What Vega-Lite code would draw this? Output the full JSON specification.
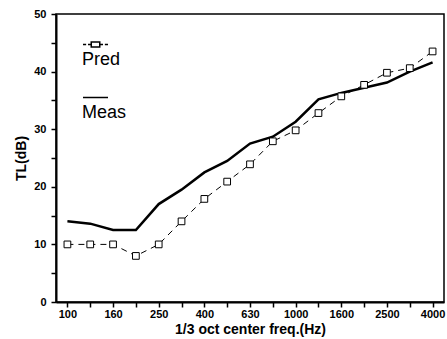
{
  "$schema": "https://vega.github.io/schema/vega-lite/v6.json",
  "width": 388,
  "height": 288,
  "autosize": {"type": "none"},
  "padding": {"left": 56, "top": 14, "right": 3, "bottom": 37},
  "config": {
    "font": "Liberation Sans",
    "view": {"stroke": "black", "strokeWidth": 1.5},
    "axis": {
      "domainColor": "black",
      "domainWidth": 2,
      "tickColor": "black",
      "tickWidth": 1.5,
      "tickSize": 5,
      "grid": false,
      "labelColor": "black",
      "labelFont": "Liberation Sans",
      "labelFontSize": 11,
      "labelFontWeight": "bold",
      "titleColor": "black",
      "titleFont": "Liberation Sans",
      "titleFontSize": 14,
      "titleFontWeight": "bold"
    }
  },
  "data": {
    "values": [
      {"freq": 100, "series": "Meas", "tl": 14.0},
      {"freq": 125, "series": "Meas", "tl": 13.6},
      {"freq": 160, "series": "Meas", "tl": 12.5},
      {"freq": 200, "series": "Meas", "tl": 12.5},
      {"freq": 250, "series": "Meas", "tl": 17.0},
      {"freq": 315, "series": "Meas", "tl": 19.5},
      {"freq": 400, "series": "Meas", "tl": 22.5},
      {"freq": 500, "series": "Meas", "tl": 24.5},
      {"freq": 630, "series": "Meas", "tl": 27.5},
      {"freq": 800, "series": "Meas", "tl": 28.7},
      {"freq": 1000, "series": "Meas", "tl": 31.3},
      {"freq": 1250, "series": "Meas", "tl": 35.2},
      {"freq": 1600, "series": "Meas", "tl": 36.3},
      {"freq": 2000, "series": "Meas", "tl": 37.2},
      {"freq": 2500, "series": "Meas", "tl": 38.1},
      {"freq": 3150, "series": "Meas", "tl": 40.0},
      {"freq": 4000, "series": "Meas", "tl": 41.6},
      {"freq": 100, "series": "Pred", "tl": 10.0},
      {"freq": 125, "series": "Pred", "tl": 10.0},
      {"freq": 160, "series": "Pred", "tl": 10.0},
      {"freq": 200, "series": "Pred", "tl": 8.0},
      {"freq": 250, "series": "Pred", "tl": 10.0},
      {"freq": 315, "series": "Pred", "tl": 14.0},
      {"freq": 400, "series": "Pred", "tl": 17.9},
      {"freq": 500, "series": "Pred", "tl": 20.9},
      {"freq": 630, "series": "Pred", "tl": 23.9},
      {"freq": 800, "series": "Pred", "tl": 27.9},
      {"freq": 1000, "series": "Pred", "tl": 29.8},
      {"freq": 1250, "series": "Pred", "tl": 32.8},
      {"freq": 1600, "series": "Pred", "tl": 35.7},
      {"freq": 2000, "series": "Pred", "tl": 37.7},
      {"freq": 2500, "series": "Pred", "tl": 39.8},
      {"freq": 3150, "series": "Pred", "tl": 40.6},
      {"freq": 4000, "series": "Pred", "tl": 43.5}
    ]
  },
  "encoding": {
    "x": {
      "field": "freq",
      "type": "ordinal",
      "scale": {"type": "point", "padding": 0.5},
      "axis": {
        "title": "1/3 oct center freq.(Hz)",
        "labelAngle": 0,
        "labelPadding": 1,
        "titlePadding": 3,
        "labelExpr": "indexof([100,160,250,400,630,1000,1600,2500,4000], datum.value) >= 0 ? datum.label : ''"
      }
    },
    "y": {
      "field": "tl",
      "type": "quantitative",
      "scale": {"domain": [0, 50], "nice": false},
      "axis": {
        "title": "TL(dB)",
        "values": [0, 5, 10, 15, 20, 25, 30, 35, 40, 45, 50],
        "labelExpr": "datum.value % 10 === 0 ? datum.label : ''",
        "labelPadding": 5,
        "titlePadding": 5
      }
    }
  },
  "layer": [
    {
      "transform": [{"filter": "datum.series === 'Meas'"}],
      "mark": {"type": "line", "color": "black", "strokeWidth": 2.5},
      "encoding": {}
    },
    {
      "transform": [{"filter": "datum.series === 'Pred'"}],
      "mark": {"type": "line", "color": "black", "strokeWidth": 1, "strokeDash": [6, 5]},
      "encoding": {}
    },
    {
      "transform": [{"filter": "datum.series === 'Pred'"}],
      "mark": {"type": "point", "shape": "square", "filled": false, "fill": "white", "stroke": "black", "strokeWidth": 1, "size": 45, "opacity": 1},
      "encoding": {}
    },
    {
      "transform": [{"filter": "false"}],
      "mark": {"type": "point", "filled": false, "fill": "white", "stroke": "black", "strokeWidth": 1.5, "opacity": 1},
      "encoding": {
        "shape": {
          "field": "series",
          "type": "nominal",
          "scale": {
            "domain": ["Pred", "Meas"],
            "range": ["M-1,0H-0.75M-0.6,0H-0.36M0.36,0H0.6M0.75,0H1M-0.34,-0.2H0.34V0.2H-0.34Z", "stroke"]
          },
          "legend": {
            "title": null,
            "orient": "none",
            "direction": "vertical",
            "legendX": 26,
            "legendY": 17,
            "padding": 0,
            "rowPadding": 14,
            "labelFont": "Liberation Sans",
            "labelFontSize": 18,
            "labelColor": "black",
            "labelLimit": 200,
            "labelOffset": -27,
            "labelBaseline": "alphabetic",
            "labelExpr": "['', datum.label]",
            "symbolSize": 625,
            "symbolStrokeWidth": 1.5
          }
        }
      }
    }
  ]
}
